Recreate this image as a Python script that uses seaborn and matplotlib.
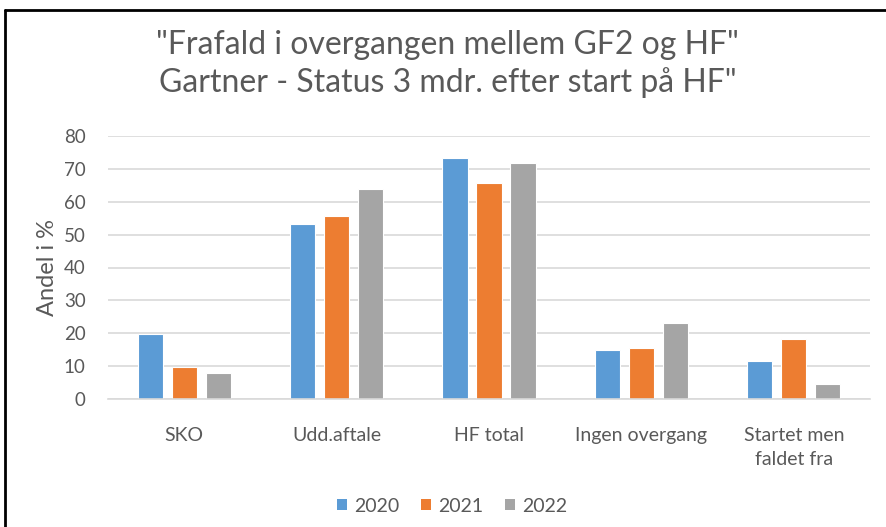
import matplotlib
matplotlib.use("Agg")
import matplotlib.pyplot as plt
import seaborn as sns
import pandas as pd
from matplotlib.lines import Line2D
from matplotlib.patches import Patch

categories = ["SKO", "Udd.aftale", "HF total", "Ingen overgang", "Startet men\nfaldet fra"]
years = ["2020", "2021", "2022"]
values_2020 = [19.7, 53.1, 73.2, 14.8, 11.5]
values_2021 = [9.7, 55.8, 65.6, 15.6, 18.3]
values_2022 = [7.8, 63.9, 71.9, 23.0, 4.7]
colors = ["#5B9BD5", "#ED7D31", "#A5A5A5"]
yticks = [0, 10, 20, 30, 40, 50, 60, 70, 80]

rows = []
for yr, vals in zip(years, [values_2020, values_2021, values_2022]):
    for c, v in zip(categories, vals):
        rows.append({"Kategori": c, "År": yr, "Andel": v})
df = pd.DataFrame(rows)

sns.set_theme(style="white")
plt.rcParams["font.family"] = ["Lato", "DejaVu Sans"]
txt = "#595959"

fig = plt.figure(figsize=(8.87, 5.27), dpi=100)
ax = fig.add_axes([108/887, 1-399/527, (870-108)/887, (399-136)/527])

sns.barplot(data=df, x="Kategori", y="Andel", hue="År", order=categories,
            hue_order=years, palette=colors, saturation=1, width=0.67, gap=0.26,
            edgecolor="white", linewidth=0.8, ax=ax, legend=False)

ax.set_ylim(0, 80)
ax.set_xlim(-0.5, 4.5)
ax.set_yticks(yticks)
ax.yaxis.grid(True, color="#D9D9D9", linewidth=1.2)
ax.set_axisbelow(True)
for s in ["top", "right", "left"]:
    ax.spines[s].set_visible(False)
ax.spines["bottom"].set_color("#D9D9D9")
ax.spines["bottom"].set_linewidth(1.2)
ax.tick_params(axis="y", length=0, colors=txt, labelsize=13.5, pad=16)
ax.tick_params(axis="x", length=0, colors=txt, labelsize=14, pad=20)
for lbl in ax.get_xticklabels():
    lbl.set_linespacing(1.55)
ax.set_xlabel("")
ax.set_ylabel("Andel i %", color=txt, fontsize=17, labelpad=4)

fig.text(0.505, 1-45/527, "\"Frafald i overgangen mellem GF2 og HF\"", ha="center", va="center",
         fontsize=23, color=txt)
fig.text(0.505, 1-83/527, "Gartner - Status 3 mdr. efter start på HF\"", ha="center", va="center",
         fontsize=23, color=txt)

handles = [Patch(facecolor=c, edgecolor="none") for c in colors]
fig.legend(handles, years, loc="center", bbox_to_anchor=(452/887, 1-506/527), ncol=3,
           frameon=False, fontsize=14, labelcolor=txt, handlelength=0.55, handleheight=0.55,
           handletextpad=0.35, columnspacing=1.1)

fig.add_artist(Line2D([5/887, 1.0], [1-10/527, 1-10/527], color="black", linewidth=2,
                      transform=fig.transFigure))
fig.add_artist(Line2D([5/887, 5/887], [0, 1-10/527], color="black", linewidth=2,
                      transform=fig.transFigure))

fig.savefig("out.png", dpi=100)
